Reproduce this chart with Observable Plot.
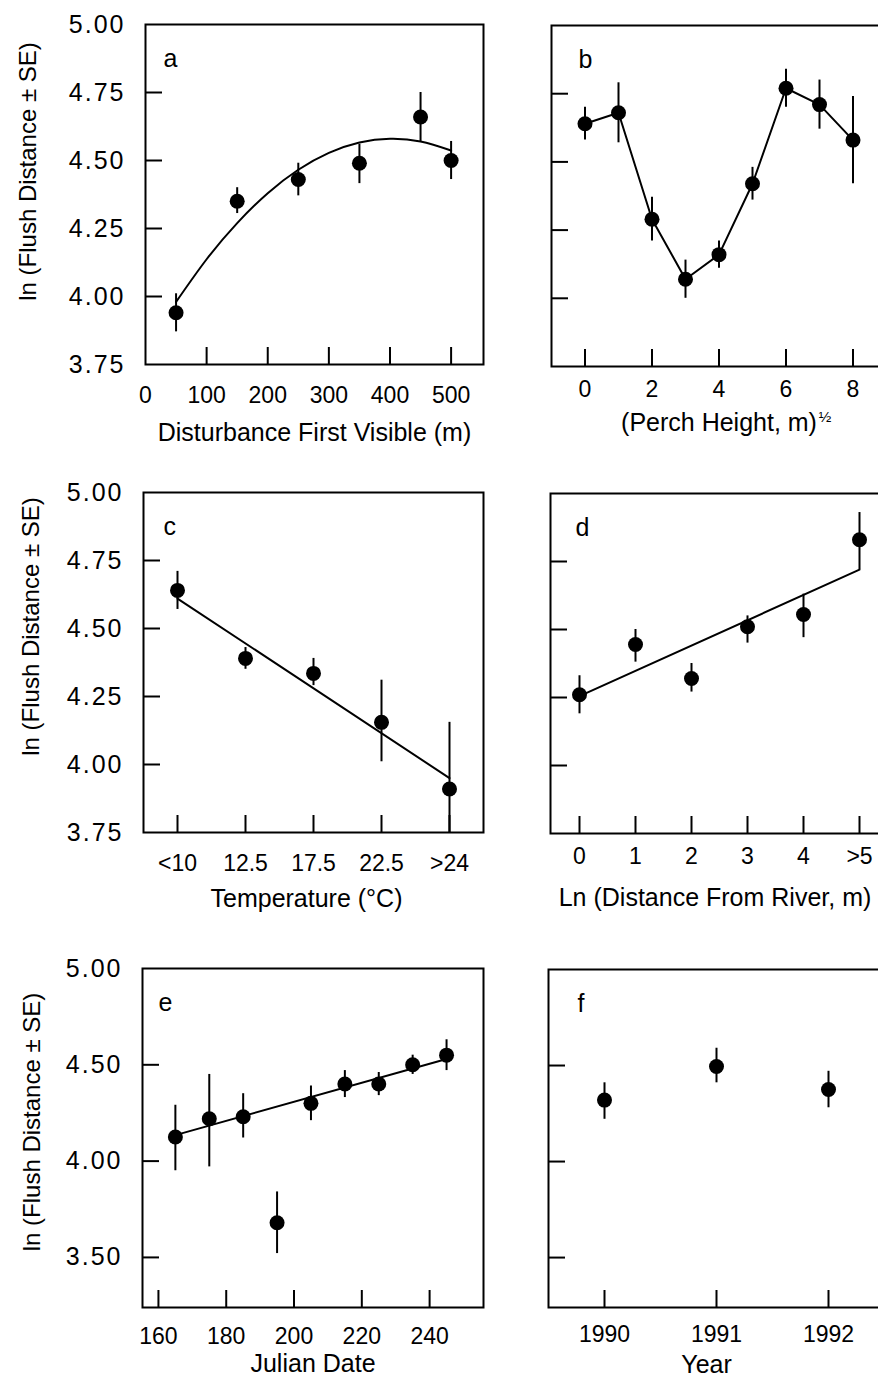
<!DOCTYPE html>
<html><head><meta charset="utf-8">
<script src="https://cdn.jsdelivr.net/npm/d3@7"></script>
<script src="https://cdn.jsdelivr.net/npm/@observablehq/plot@0.6"></script>
<style>
html,body{margin:0;padding:0;background:#fff;overflow:hidden;}
#wrap{position:relative;width:878px;height:1386px;overflow:hidden;background:#fff;}
#wrap svg{position:absolute;overflow:visible;max-width:none !important;}
g[aria-label="y-axis tick label"]{letter-spacing:2px;}
</style></head><body><div id="wrap"></div>
<script>
// ---------- DATA ----------
// (a) Disturbance first visible
const aX    = [50, 150, 250, 350, 450, 500];
const aMean = [3.94, 4.35, 4.43, 4.49, 4.66, 4.50];
const aLo   = [3.87, 4.305, 4.37, 4.415, 4.57, 4.43];
const aHi   = [4.01, 4.40, 4.49, 4.56, 4.75, 4.57];
const aCurveX = [50, 100, 150, 200, 250, 300, 350, 400, 450, 500];
const aCurveY = [3.98, 4.137, 4.27, 4.38, 4.466, 4.528, 4.566, 4.58, 4.57, 4.537];
const aTicks = [0, 100, 200, 300, 400, 500];

// (b) Perch height
const bX    = [0, 1, 2, 3, 4, 5, 6, 7, 8];
const bMean = [4.64, 4.68, 4.29, 4.07, 4.16, 4.42, 4.77, 4.71, 4.58];
const bLo   = [4.58, 4.57, 4.21, 4.00, 4.11, 4.36, 4.70, 4.62, 4.42];
const bHi   = [4.70, 4.79, 4.37, 4.14, 4.21, 4.48, 4.84, 4.80, 4.74];
const bTicks = [0, 2, 4, 6, 8];

// (c) Temperature
const cCats = ["<10", "12.5", "17.5", "22.5", ">24"];
const cMean = [4.64, 4.39, 4.335, 4.155, 3.91];
const cLo   = [4.57, 4.35, 4.29, 4.01, 3.75];
const cHi   = [4.71, 4.43, 4.39, 4.31, 4.155];
const cFitX = ["<10", ">24"];
const cFitY = [4.61, 3.95];

// (d) Distance from river
const dCats = ["0", "1", "2", "3", "4", ">5"];
const dMean = [4.26, 4.445, 4.32, 4.51, 4.555, 4.83];
const dLo   = [4.19, 4.38, 4.27, 4.45, 4.47, 4.72];
const dHi   = [4.33, 4.50, 4.375, 4.55, 4.63, 4.93];
const dFitX = ["0", ">5"];
const dFitY = [4.255, 4.72];

// (e) Julian date
const eX    = [165, 175, 185, 195, 205, 215, 225, 235, 245];
const eMean = [4.125, 4.22, 4.23, 3.68, 4.30, 4.40, 4.40, 4.50, 4.55];
const eLo   = [3.95, 3.97, 4.12, 3.52, 4.21, 4.33, 4.34, 4.45, 4.47];
const eHi   = [4.29, 4.45, 4.35, 3.84, 4.39, 4.47, 4.46, 4.55, 4.63];
const eFitX = [165, 245];
const eFitY = [4.135, 4.53];
const eTicks = [160, 180, 200, 220, 240];

// (f) Year
const fYears = [1990, 1991, 1992];
const fMean  = [4.32, 4.495, 4.375];
const fLo    = [4.22, 4.41, 4.28];
const fHi    = [4.41, 4.59, 4.47];

// y-axis tick values
const yTicksTop = [3.75, 4.00, 4.25, 4.50, 4.75, 5.00];
const yMarksTop = [4.00, 4.25, 4.50, 4.75];
const yTicksE = [3.50, 4.00, 4.50, 5.00];
const yMarksE = [3.50, 4.00, 4.50];

const yTitle = "ln (Flush Distance \u00b1 SE)";

// ---------- DRAWING ----------
const FONT = "'Liberation Sans', Arial, sans-serif";
const fmt2 = d3.format(".2f");
const zip = (xs, m, lo, hi) => xs.map((x, i) => ({x, m: m[i], lo: lo[i], hi: hi[i]}));
const pairs = (xs, ys) => xs.map((x, i) => ({x, y: ys[i]}));

function panel(c) {
  const marks = [
    Plot.frame({strokeWidth: 2}),
    Plot.axisX({anchor: "bottom", ticks: c.xMarks, tickSize: -17, fill: "none", label: null, strokeWidth: 2}),
    Plot.axisX({anchor: "bottom", ticks: c.xLabels, tickSize: 0, tickPadding: c.xPad, label: null, fontSize: 23, tickFormat: c.xFormat || (d => String(d))}),
    Plot.axisY({anchor: "left", ticks: c.yMarks, tickSize: -17, fill: "none", label: null, strokeWidth: 2}),
  ];
  if (c.yLabels) {
    marks.push(Plot.axisY({anchor: "left", ticks: c.yLabels, tickSize: 0, tickPadding: 20, label: null, fontSize: 25, tickFormat: fmt2}));
    marks.push(Plot.text([yTitle], {frameAnchor: "left", textAnchor: "middle", lineAnchor: "middle", rotate: -90, dx: c.yTitleDx, dy: c.yTitleDy, fontSize: 24}));
  }
  marks.push(Plot.ruleX(c.pts, {x: "x", y1: "lo", y2: "hi", strokeWidth: 2}));
  if (c.line) marks.push(Plot.line(c.line, {x: "x", y: "y", strokeWidth: 2, curve: c.curve || "linear"}));
  marks.push(Plot.dot(c.pts, {x: "x", y: "m", r: 7.5, fill: "black", stroke: "none"}));
  marks.push(Plot.text([c.xTitle], {frameAnchor: "bottom", dx: c.xTitleDx || 0, dy: c.xTitleDy, fontSize: 25}));
  if (c.sup) marks.push(Plot.text([c.sup], {frameAnchor: "bottom", dx: c.supDx, dy: c.supDy, fontSize: 15}));
  marks.push(Plot.text([c.letter], {frameAnchor: "top-left", textAnchor: "start", lineAnchor: "bottom", dx: c.letterDx, dy: 42, fontSize: 25}));

  const svg = Plot.plot({
    width: c.width, height: c.height,
    marginLeft: c.L, marginTop: c.T, marginRight: c.R, marginBottom: c.B,
    x: c.x, y: {domain: c.yDomain},
    style: {fontFamily: FONT, fontSize: "23px", color: "black", background: "transparent"},
    marks
  });
  svg.style.left = c.left + "px";
  svg.style.top = c.top + "px";
  document.getElementById("wrap").appendChild(svg);
}

panel({
  left: 0, top: 0, width: 500, height: 460, L: 145, T: 24, R: 17, B: 96,
  x: {domain: [0, 553]}, yDomain: [3.75, 5],
  xLabels: aTicks, xMarks: aTicks.slice(1), xPad: 22,
  yLabels: yTicksTop, yMarks: yMarksTop, yTitleDx: -117, yTitleDy: -23,
  pts: zip(aX, aMean, aLo, aHi), line: pairs(aCurveX, aCurveY), curve: "natural",
  xTitle: "Disturbance First Visible (m)", xTitleDy: 76, letter: "a", letterDx: 18
});
panel({
  left: 500, top: 0, width: 400, height: 460, L: 51, T: 25, R: 14, B: 94,
  x: {domain: [-1, 9]}, yDomain: [3.75, 5],
  xLabels: bTicks, xMarks: bTicks, xPad: 14,
  yMarks: yMarksTop,
  pts: zip(bX, bMean, bLo, bHi), line: pairs(bX, bMean),
  xTitle: "(Perch Height, m)", xTitleDy: 64, sup: "\u00bd", supDx: 106, supDy: 55,
  letter: "b", letterDx: 27
});
panel({
  left: 0, top: 460, width: 500, height: 460, L: 143, T: 32, R: 17, B: 88,
  x: {type: "point", domain: cCats, padding: 0.5}, yDomain: [3.75, 5],
  xLabels: cCats, xMarks: cCats, xPad: 22,
  yLabels: yTicksTop, yMarks: yMarksTop, yTitleDx: -112, yTitleDy: -36,
  pts: zip(cCats, cMean, cLo, cHi), line: pairs(cFitX, cFitY),
  xTitle: "Temperature (\u00b0C)", xTitleDx: -7, xTitleDy: 74, letter: "c", letterDx: 20
});
panel({
  left: 500, top: 460, width: 400, height: 460, L: 50, T: 33, R: 13, B: 87,
  x: {type: "point", domain: dCats, padding: 0.5}, yDomain: [3.75, 5],
  xLabels: dCats, xMarks: dCats, xPad: 14,
  yMarks: yMarksTop,
  pts: zip(dCats, dMean, dLo, dHi), line: pairs(dFitX, dFitY),
  xTitle: "Ln (Distance From River, m)", xTitleDx: -4, xTitleDy: 72, letter: "d", letterDx: 25
});
panel({
  left: 0, top: 920, width: 500, height: 466, L: 142, T: 48, R: 17, B: 79,
  x: {domain: [155.3, 255.9]}, yDomain: [3.24, 5],
  xLabels: eTicks, xMarks: eTicks, xPad: 20,
  yLabels: yTicksE, yMarks: yMarksE, yTitleDx: -110, yTitleDy: -16,
  pts: zip(eX, eMean, eLo, eHi), line: pairs(eFitX, eFitY),
  xTitle: "Julian Date", xTitleDy: 64, letter: "e", letterDx: 16
});
panel({
  left: 500, top: 920, width: 400, height: 466, L: 48, T: 49, R: 16, B: 79,
  x: {type: "point", domain: fYears, padding: 0.5}, yDomain: [3.24, 5],
  xLabels: fYears, xMarks: fYears, xPad: 18,
  yMarks: yMarksE,
  pts: zip(fYears, fMean, fLo, fHi),
  xTitle: "Year", xTitleDx: -10, xTitleDy: 65, letter: "f", letterDx: 29
});
</script></body></html>
